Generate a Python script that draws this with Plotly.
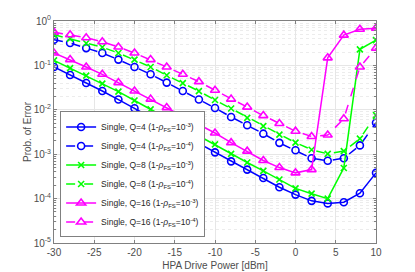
import plotly.graph_objects as go

x_dbm = [-30, -28, -26, -24, -22, -20, -18, -16, -14, -12, -10, -8, -6, -4, -2, 0, 2, 4, 6, 8, 10]

q4_e3 = [9.2e-2, 6.1e-2, 4.0e-2, 2.65e-2, 1.7e-2, 1.08e-2, 6.9e-3, 4.4e-3, 2.75e-3, 1.74e-3, 1.1e-3,
         6.9e-4, 4.5e-4, 2.9e-4, 1.8e-4, 1.23e-4, 8.9e-5, 7.8e-5, 8.3e-5, 1.32e-4, 3.8e-4]
q4_e4 = [0.38, 0.32, 0.245, 0.19, 0.135, 0.092, 0.063, 0.041, 0.0266, 0.017, 0.011,
         6.9e-3, 4.5e-3, 2.9e-3, 1.8e-3, 1.23e-3, 8.1e-4, 7.1e-4, 8.1e-4, 1.58e-3, 5.1e-3]
q8_e3 = [0.13, 0.087, 0.059, 0.039, 0.0257, 0.0162, 0.0102, 6.6e-3, 4.1e-3, 2.57e-3, 1.66e-3,
         1.02e-3, 6.5e-4, 4.2e-4, 2.7e-4, 1.7e-4, 1.29e-4, 1.0e-4, 4.9e-4, 0.23, 0.37]
q8_e4 = [0.49, 0.40, 0.316, 0.257, 0.19, 0.135, 0.092, 0.06, 0.04, 0.0263, 0.0166,
         0.0107, 6.6e-3, 4.3e-3, 2.75e-3, 1.82e-3, 1.26e-3, 1.02e-3, 1.17e-3, 2.24e-3, 7.6e-3]
q16_e3 = [0.19, 0.135, 0.092, 0.063, 0.041, 0.0266, 0.0174, 0.0112, 7.1e-3, 4.7e-3, 3.0e-3,
          1.82e-3, 1.17e-3, 7.2e-4, 5.0e-4, 3.8e-4, 4.5e-4, 0.148, 0.48, 0.65, 0.69]
q16_e4 = [0.56, 0.49, 0.42, 0.34, 0.26, 0.19, 0.135, 0.092, 0.063, 0.043, 0.0275,
          0.0174, 0.0115, 7.4e-3, 4.9e-3, 3.3e-3, 2.5e-3, 2.7e-3, 6.3e-3, 0.092, 0.245]

y_tickvals = [1e-5, 1e-4, 1e-3, 1e-2, 1e-1, 1]
y_ticktext = ["10<sup>-5</sup>", "10<sup>-4</sup>", "10<sup>-3</sup>", "10<sup>-2</sup>",
              "10<sup>-1</sup>", "10<sup>0</sup>"]
x_tickvals = [-30, -25, -20, -15, -10, -5, 0, 5, 10]
x_ticktext = ["-30", "-25", "-20", "-15", "-10", "-5", "0", "5", "10"]

names = [
    "Single, Q=4 (1-<i>ρ</i><sub>FS</sub>=10<sup>-3</sup>)",
    "Single, Q=4 (1-<i>ρ</i><sub>FS</sub>=10<sup>-4</sup>)",
    "Single, Q=8 (1-<i>ρ</i><sub>FS</sub>=10<sup>-3</sup>)",
    "Single, Q=8 (1-<i>ρ</i><sub>FS</sub>=10<sup>-4</sup>)",
    "Single, Q=16 (1-<i>ρ</i><sub>FS</sub>=10<sup>-3</sup>)",
    "Single, Q=16 (1-<i>ρ</i><sub>FS</sub>=10<sup>-4</sup>)",
]
series = [q4_e3, q4_e4, q8_e3, q8_e4, q16_e3, q16_e4]
colors = ["#0000ff", "#0000ff", "#00ff00", "#00ff00", "#ff00ff", "#ff00ff"]
dashes = ["solid", "dash", "solid", "dash", "solid", "dash"]
symbols = ["circle-open", "circle-open", "x-thin-open", "x-thin-open", "triangle-up-open", "triangle-up-open"]
sizes = [7, 7, 6, 6, 8, 8]

fig = go.Figure()
for nm, ys, c, d, s, sz in zip(names, series, colors, dashes, symbols, sizes):
    fig.add_trace(go.Scatter(
        x=x_dbm, y=ys, name=nm, mode="lines+markers",
        line=dict(color=c, width=1.5, dash=d),
        marker=dict(symbol=s, size=sz, color=c, line=dict(color=c, width=1.6)),
    ))

axis_col = "#808080"
# page body has an 8px default margin, so the figure is sized to fit the window
fig.update_layout(
    width=407, height=264,
    margin=dict(l=46, r=39, t=13, b=29),
    paper_bgcolor="white", plot_bgcolor="white",
    font=dict(family="Liberation Sans, Arial, sans-serif", size=10, color="#4d4d4d"),
    showlegend=True,
    legend=dict(
        x=0.019, y=0.025, xanchor="left", yanchor="bottom",
        bgcolor="white", bordercolor="#808080", borderwidth=1,
        font=dict(size=8.5, color="#262626"),
        tracegroupgap=0, itemwidth=30,
    ),
)
fig.update_xaxes(
    range=[-30, 10], tickvals=x_tickvals, ticktext=x_ticktext,
    automargin=False,
    showline=True, mirror="ticks", linecolor=axis_col, linewidth=1,
    ticks="inside", ticklen=3, tickcolor=axis_col,
    showgrid=True, gridcolor="#e6e6e6", gridwidth=1, zeroline=False,
    title=dict(text="HPA Drive Power [dBm]", standoff=4, font=dict(size=10)),
    tickfont=dict(size=10),
)
fig.update_yaxes(
    type="log", range=[-5, 0], tickvals=y_tickvals, ticktext=y_ticktext,
    automargin=False,
    showline=True, mirror="ticks", linecolor=axis_col, linewidth=1,
    ticks="inside", ticklen=3, tickcolor=axis_col,
    showgrid=True, gridcolor="#e6e6e6", gridwidth=1, zeroline=False,
    minor=dict(dtick="D1", showgrid=True, gridcolor="#ececec", griddash="dot",
               ticks="inside", ticklen=2, tickcolor=axis_col),
    title=dict(text="Prob. of Error", standoff=0, font=dict(size=10)),
    tickfont=dict(size=10),
)

fig.write_html("out.html")
